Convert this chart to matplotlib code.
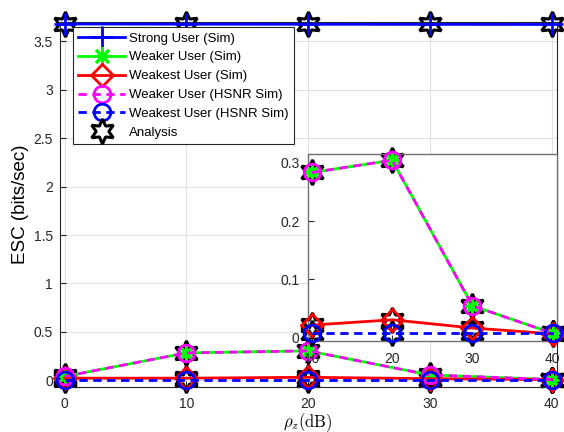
import numpy as np
import matplotlib
matplotlib.use('Agg')
import matplotlib.pyplot as plt

plt.rcParams['font.family'] = ['Liberation Sans', 'DejaVu Sans']
plt.rcParams['mathtext.fontset'] = 'cm'

# data
rho = [0, 10, 20, 30, 40]
strong = [3.68, 3.678, 3.677, 3.676, 3.675]
weaker = [0.04, 0.283, 0.304, 0.055, 0.008]
weakest = [0.022, 0.022, 0.031, 0.017, 0.007]
weaker_hsnr = [0.04, 0.283, 0.304, 0.055, 0.008]
weakest_hsnr = [0.008, 0.008, 0.008, 0.008, 0.008]

labels = ['Strong User (Sim)', 'Weaker User (Sim)', 'Weakest User (Sim)',
          'Weaker User (HSNR Sim)', 'Weakest User (HSNR Sim)', 'Analysis']

ast = (8, 2, 0)
hexa = (6, 1, 0)


def draw(ax, xs, s, with_labels=True):
    lab = (lambda i: labels[i]) if with_labels else (lambda i: None)
    kw = dict(lw=2, mew=2, zorder=3, clip_on=False)
    h = []
    h += ax.plot(xs, np.array(strong)[s], color='blue', marker='+', ms=16, label=lab(0), **kw)
    h += ax.plot(xs, np.array(weaker)[s], color='#00ff00', marker=ast, ms=13, label=lab(1), **kw)
    h += ax.plot(xs, np.array(weakest)[s], color='red', marker='D', ms=11, mfc='none', label=lab(2), **kw)
    h += ax.plot(xs, np.array(weaker_hsnr)[s], color='magenta', ls=(0, (3, 2)), marker='o', ms=12, mfc='none', label=lab(3), **kw)
    h += ax.plot(xs, np.array(weakest_hsnr)[s], color='blue', ls=(0, (3, 2)), marker='o', ms=12, mfc='none', label=lab(4), **kw)
    for ys in (strong, weaker, weakest, weakest_hsnr):
        ax.plot(xs, np.array(ys)[s], ls='none', marker=hexa, ms=18, mfc='none', mec='black', mew=2.2, zorder=2, clip_on=False)
    h += ax.plot([], [], ls='none', marker=hexa, ms=18, mfc='none', mec='black', mew=2.2, label=lab(5))
    return h


fig = plt.figure(figsize=(5.64, 4.32), dpi=100)
ax = fig.add_axes([0.106, 0.104, 0.881, 0.845])
handles = draw(ax, rho, slice(0, 5))
ax.set_xlim(-0.4, 40.4)
ax.set_ylim(-0.07, 3.7)
ax.set_xticks([0, 10, 20, 30, 40])
ax.set_yticks([0, 0.5, 1, 1.5, 2, 2.5, 3, 3.5])
ax.set_yticklabels(['0', '0.5', '1', '1.5', '2', '2.5', '3', '3.5'])
ax.grid(True, color='#e0e0e0', lw=0.8)
ax.set_axisbelow(True)
ax.tick_params(direction='in', labelsize=10, colors='#262626', length=4)
ax.tick_params(axis='x', pad=7)
ax.tick_params(axis='y', pad=5)
for sp in ax.spines.values():
    sp.set_color('#262626')
    sp.set_linewidth(0.8)
ax.set_xlabel(r'$\rho_z(\mathrm{dB})$', fontsize=12, labelpad=0)
ax.set_ylabel('ESC (bits/sec)', fontsize=13.5, labelpad=3)

leg = ax.legend(handles=handles, loc='upper left', bbox_to_anchor=(0.026, 0.986),
                fontsize=9.5, handlelength=3.6, numpoints=1, fancybox=False,
                framealpha=1, edgecolor='#262626', borderpad=0.4, labelspacing=0.5,
                handletextpad=0.3, borderaxespad=0)
leg.get_frame().set_linewidth(0.8)
leg.set_zorder(5)

ins = fig.add_axes([0.546, 0.211, 0.441, 0.433])
draw(ins, rho[1:], slice(1, 5), with_labels=False)
ins.set_xlim(9.5, 40.5)
ins.set_ylim(-0.005, 0.315)
ins.set_xticks([10, 20, 30, 40])
ins.set_yticks([0, 0.1, 0.2, 0.3])
ins.set_yticklabels(['0', '0.1', '0.2', '0.3'])
ins.tick_params(direction='in', labelsize=10, colors='#262626', length=4)
ins.tick_params(axis='x', pad=8)
ins.tick_params(axis='y', pad=6)
for sp in ins.spines.values():
    sp.set_color('#707070')
    sp.set_linewidth(1.0)
ins.set_zorder(4)

fig.savefig('out.png', dpi=100)
